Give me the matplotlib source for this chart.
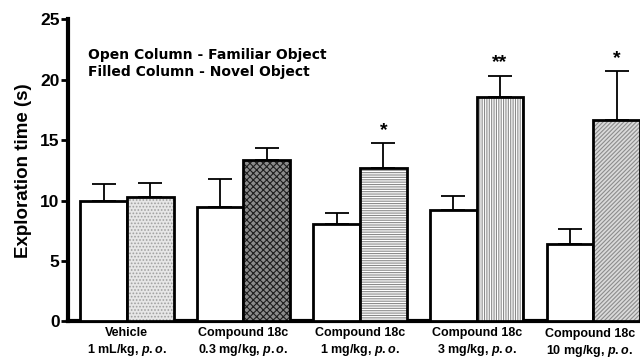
import matplotlib
matplotlib.use("Agg")
import matplotlib.pyplot as plt
import matplotlib.transforms as mtransforms
import numpy as np

plt.rcParams['font.family'] = ['Liberation Sans', 'DejaVu Sans']
plt.rcParams['font.weight'] = 'bold'
plt.rcParams['mathtext.fontset'] = 'custom'
plt.rcParams['mathtext.rm'] = 'Liberation Sans:bold'
plt.rcParams['mathtext.it'] = 'Liberation Sans:italic:bold'
plt.rcParams['hatch.linewidth'] = 0.8

names = ["Vehicle", "Compound 18c", "Compound 18c", "Compound 18c", "Compound 18c"]
doses = ["1 mL/kg, $\\it{p.o.}$", "0.3 mg/kg, $\\it{p.o.}$", "1 mg/kg, $\\it{p.o.}$",
         "3 mg/kg, $\\it{p.o.}$", "10 mg/kg, $\\it{p.o.}$"]
familiar = [10.0, 9.5, 8.1, 9.2, 6.4]
familiar_err = [1.35, 2.3, 0.9, 1.2, 1.25]
novel = [10.3, 13.4, 12.7, 18.6, 16.7]
novel_err = [1.2, 0.95, 2.05, 1.75, 4.05]
stars = ["", "", "*", "**", "*"]

fig = plt.figure(figsize=(6.4, 3.59), dpi=100)
ax = fig.add_axes([0.106, 0.1045, 0.894, 0.8412])

x = np.arange(len(names))
w = 0.4
faces = ['#e6e6e6', '#8c8c8c', 'white', 'white', '#dadada']
hcols = ['#a0a0a0', '#1e1e1e', '#8a8a8a', '#8a8a8a', '#8c8c8c']
hatches = ['.....', 'xxxxx', '-------', '|||||||', '////////']

ax.bar(x - w/2, familiar, w, facecolor='white', edgecolor='black', linewidth=2, zorder=3)
for i in range(len(x)):
    ax.bar(x[i] + w/2, novel[i], w, facecolor=faces[i], edgecolor=hcols[i],
           hatch=hatches[i], linewidth=0, zorder=3)
ax.bar(x + w/2, novel, w, fill=False, edgecolor='black', linewidth=2, zorder=4)

ax.errorbar(x - w/2, familiar, yerr=[np.zeros(5), familiar_err], fmt='none',
            ecolor='black', elinewidth=1.3, capsize=8.6, capthick=1.3, zorder=2)
ax.errorbar(x + w/2, novel, yerr=[np.zeros(5), novel_err], fmt='none',
            ecolor='black', elinewidth=1.3, capsize=8.6, capthick=1.3, zorder=2)

for i, s in enumerate(stars):
    if s:
        ax.text(x[i] + w/2, novel[i] + novel_err[i] + 0.35, s, ha='center', va='bottom',
                fontsize=14, fontweight='bold')

ax.set_xlim(-0.506, 4.40)
ax.set_ylim(0, 25)
ax.set_yticks([0, 5, 10, 15, 20, 25])
ax.set_xticks(x)
ax.set_xticklabels([])
ax.tick_params(axis='x', length=0)
ax.tick_params(axis='y', length=5, width=2, labelsize=12.5, pad=1)
for t in ax.get_yticklabels():
    t.set_fontweight('bold')
for s in ['top', 'right']:
    ax.spines[s].set_visible(False)
ax.spines['left'].set_linewidth(3)
ax.spines['bottom'].set_linewidth(3)

# group labels (two lines each), placed below the axis
trans = mtransforms.blended_transform_factory(ax.transData, fig.transFigure)
for i in range(len(names)):
    dy = 1.5 if i == len(names) - 1 else 0
    xc = x[i] if i < len(names) - 1 else x[i] - 0.03
    ax.text(xc, 1 - (333 + dy) / 359, names[i], transform=trans, ha='center', va='center',
            fontsize=9, fontweight='bold')
    ax.text(xc, 1 - (349.5 + dy) / 359, doses[i], transform=trans, ha='center', va='center',
            fontsize=9, fontweight='bold')

ax.set_ylabel("Exploration time (s)", fontsize=13.5, fontweight='bold', labelpad=6)

ax.text(0.035, 0.905, "Open Column - Familiar Object\nFilled Column - Novel Object",
        transform=ax.transAxes, fontsize=10, fontweight='bold', va='top', ha='left',
        linespacing=1.3, family='DejaVu Sans')

fig.savefig("out.png", dpi=100)
